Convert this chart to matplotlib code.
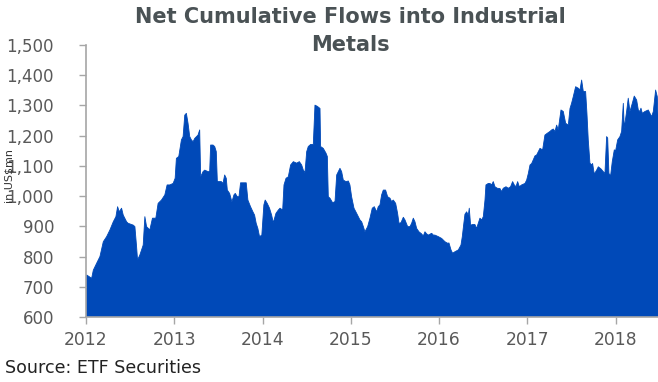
import matplotlib
matplotlib.use("Agg")
import matplotlib.pyplot as plt
from matplotlib.ticker import FuncFormatter, MultipleLocator

# Net cumulative flows into industrial metals ETPs (US$mn), by decimal year
years = [
    2012.000, 2012.008, 2012.064, 2012.083, 2012.121, 2012.158, 2012.196, 2012.234,
    2012.271, 2012.309, 2012.339, 2012.358, 2012.377, 2012.403, 2012.422, 2012.460,
    2012.478, 2012.535, 2012.554, 2012.573, 2012.584, 2012.610, 2012.648, 2012.667,
    2012.686, 2012.723, 2012.753, 2012.791, 2012.817, 2012.855, 2012.893, 2012.919,
    2012.949, 2012.987, 2013.010, 2013.024, 2013.051, 2013.081, 2013.100, 2013.119,
    2013.137, 2013.156, 2013.175, 2013.194, 2013.213, 2013.232, 2013.269, 2013.288,
    2013.299, 2013.326, 2013.345, 2013.382, 2013.401, 2013.412, 2013.439, 2013.458,
    2013.476, 2013.488, 2013.514, 2013.533, 2013.552, 2013.571, 2013.589, 2013.601,
    2013.627, 2013.653, 2013.676, 2013.691, 2013.714, 2013.733, 2013.751, 2013.815,
    2013.834, 2013.864, 2013.891, 2013.910, 2013.928, 2013.947, 2013.966, 2013.992,
    2014.015, 2014.030, 2014.053, 2014.079, 2014.103, 2014.122, 2014.152, 2014.179,
    2014.198, 2014.228, 2014.243, 2014.266, 2014.292, 2014.318, 2014.349, 2014.386,
    2014.417, 2014.443, 2014.462, 2014.481, 2014.500, 2014.518, 2014.545, 2014.575,
    2014.594, 2014.621, 2014.651, 2014.658, 2014.688, 2014.719, 2014.734, 2014.745,
    2014.764, 2014.794, 2014.821, 2014.840, 2014.877, 2014.896, 2014.915, 2014.945,
    2014.972, 2014.990, 2015.009, 2015.036, 2015.066, 2015.085, 2015.104, 2015.123,
    2015.142, 2015.160, 2015.191, 2015.217, 2015.243, 2015.266, 2015.293, 2015.311,
    2015.330, 2015.349, 2015.368, 2015.394, 2015.417, 2015.444, 2015.462, 2015.481,
    2015.508, 2015.530, 2015.546, 2015.568, 2015.595, 2015.614, 2015.644, 2015.670,
    2015.689, 2015.708, 2015.727, 2015.746, 2015.772, 2015.802, 2015.821, 2015.840,
    2015.859, 2015.878, 2015.916, 2015.935, 2015.953, 2015.991, 2016.029, 2016.067,
    2016.097, 2016.112, 2016.135, 2016.153, 2016.180, 2016.218, 2016.248, 2016.263,
    2016.278, 2016.293, 2016.312, 2016.331, 2016.342, 2016.357, 2016.380, 2016.406,
    2016.425, 2016.444, 2016.463, 2016.482, 2016.501, 2016.520, 2016.531, 2016.558,
    2016.576, 2016.595, 2016.614, 2016.633, 2016.659, 2016.690, 2016.708, 2016.727,
    2016.758, 2016.784, 2016.810, 2016.833, 2016.852, 2016.871, 2016.890, 2016.909,
    2016.935, 2016.973, 2016.992, 2017.011, 2017.030, 2017.049, 2017.067, 2017.086,
    2017.105, 2017.143, 2017.173, 2017.199, 2017.226, 2017.256, 2017.275, 2017.294,
    2017.313, 2017.332, 2017.350, 2017.381, 2017.407, 2017.434, 2017.464, 2017.483,
    2017.501, 2017.520, 2017.547, 2017.577, 2017.596, 2017.615, 2017.634, 2017.660,
    2017.675, 2017.690, 2017.709, 2017.728, 2017.739, 2017.758, 2017.785, 2017.804,
    2017.834, 2017.860, 2017.879, 2017.898, 2017.910, 2017.924, 2017.943, 2017.962,
    2017.985, 2018.000, 2018.023, 2018.049, 2018.068, 2018.087, 2018.098, 2018.124,
    2018.143, 2018.162, 2018.189, 2018.211, 2018.238, 2018.257, 2018.275, 2018.287,
    2018.302, 2018.332, 2018.370, 2018.408, 2018.427, 2018.453, 2018.472, 2018.480,
]

flows = [
    737, 739, 728, 755, 778, 800, 849, 866,
    888, 915, 932, 965, 948, 960, 937, 915,
    910, 904, 899, 833, 789, 805, 838, 932,
    899, 888, 927, 927, 976, 987, 1004, 1037,
    1037, 1042, 1059, 1125, 1131, 1186, 1197, 1268,
    1274, 1241, 1197, 1186, 1180, 1191, 1202, 1219,
    1064, 1081, 1086, 1081, 1081, 1169, 1169, 1164,
    1147, 1048, 1048, 1048, 1042, 1070, 1059, 1020,
    1009, 981, 1004, 1009, 998, 998, 1044, 1044,
    987, 965, 948, 937, 910, 893, 866, 871,
    971, 987, 976, 960, 937, 912, 943, 954,
    960, 954, 1037, 1059, 1064, 1103, 1114, 1109,
    1114, 1103, 1086, 1078, 1147, 1164, 1171, 1171,
    1301, 1297, 1290, 1164, 1158, 1142, 1131, 998,
    993, 978, 982, 1070, 1092, 1081, 1053, 1048,
    1050, 1037, 998, 960, 943, 932, 921, 915,
    899, 882, 899, 927, 960, 965, 948, 965,
    971, 1004, 1020, 1020, 998, 993, 982, 987,
    976, 943, 910, 912, 930, 921, 899, 899,
    910, 927, 915, 893, 882, 875, 868, 882,
    875, 871, 877, 871, 871, 866, 860, 849,
    844, 845, 822, 811, 816, 822, 838, 866,
    904, 940, 948, 937, 960, 904, 906, 906,
    893, 910, 927, 921, 932, 987, 1037, 1042,
    1042, 1037, 1048, 1031, 1026, 1025, 1015, 1026,
    1031, 1026, 1031, 1048, 1037, 1031, 1048, 1031,
    1037, 1042, 1053, 1075, 1103, 1108, 1120, 1133,
    1136, 1158, 1153, 1202, 1208, 1214, 1219, 1222,
    1214, 1235, 1219, 1285, 1280, 1241, 1235, 1290,
    1307, 1329, 1362, 1357, 1351, 1384, 1346, 1346,
    1274, 1186, 1109, 1103, 1108, 1073, 1086, 1097,
    1090, 1081, 1075, 1197, 1192, 1075, 1067, 1114,
    1153, 1150, 1186, 1197, 1214, 1307, 1225, 1279,
    1324, 1280, 1307, 1331, 1318, 1285, 1280, 1291,
    1274, 1280, 1285, 1263, 1280, 1351, 1329, 1270,
]

year_ticks = [2012, 2013, 2014, 2015, 2016, 2017, 2018]

FILL = "#0049B8"
TEXT = "#595959"
SPINE = "#A6A6A6"

plt.rcParams["font.family"] = ["DejaVu Sans"]

fig = plt.figure(figsize=(6.58, 3.82), dpi=100)
ax = fig.add_axes([86 / 658, 1 - 317 / 382, 572 / 658, 272 / 382])

ax.fill_between(years, flows, 0, color=FILL, linewidth=0.6, edgecolor=FILL)

ax.set_xlim(2012.0, 2018.48)
ax.set_ylim(600, 1500)
ax.yaxis.set_major_locator(MultipleLocator(100))
ax.yaxis.set_major_formatter(FuncFormatter(lambda v, _: f"{int(v):,}"))
ax.set_xticks(year_ticks)
ax.set_xticklabels([str(y) for y in year_ticks])

for side in ("top", "right"):
    ax.spines[side].set_visible(False)
for side in ("left", "bottom"):
    ax.spines[side].set_color(SPINE)
    ax.spines[side].set_linewidth(1.2)

ax.tick_params(axis="y", direction="out", length=5, width=1.0, color=SPINE,
               labelsize=12, labelcolor=TEXT, pad=18)
ax.tick_params(axis="x", direction="out", length=5, width=1.0, color=SPINE,
               labelsize=12.3, labelcolor=TEXT, pad=5)

ax.set_ylabel("in US$mn", fontsize=8, color="#333333")
ax.yaxis.set_label_coords((14.5 - 86) / 572, 0.52)

title_kw = dict(ha="center", va="center", fontsize=15, fontweight="bold",
                color="#4A5255")
fig.text(350 / 658, 1 - 17 / 382, "Net Cumulative Flows into Industrial", **title_kw)
fig.text(350 / 658, 1 - 45 / 382, "Metals", **title_kw)

fig.text(5 / 658, 1 - 368 / 382, "Source: ETF Securities",
         ha="left", va="center", fontsize=12.6, color="#222222")

fig.savefig("out.png", dpi=100)
